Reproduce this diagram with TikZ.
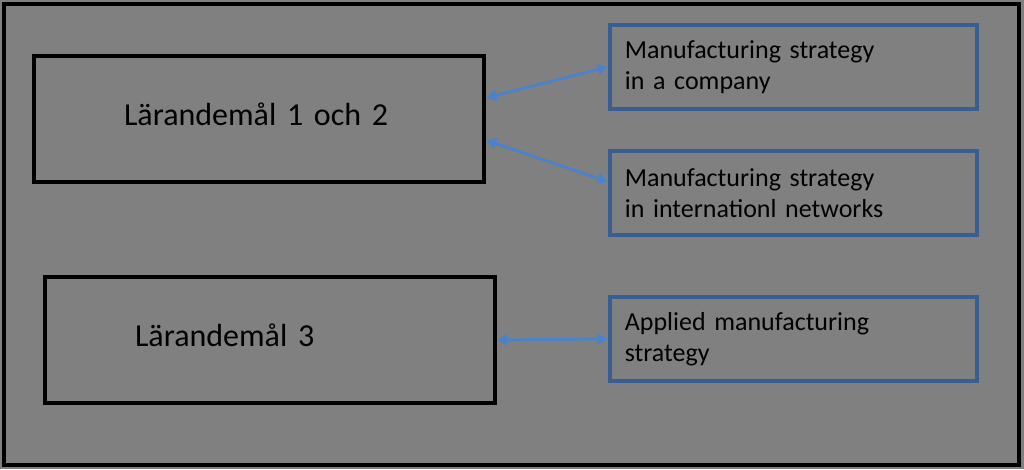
\documentclass[tikz,border=0pt]{standalone}
\usepackage{fontspec}
\setmainfont{Carlito}
\usetikzlibrary{arrows.meta}
\definecolor{bg}{RGB}{128,128,128}
\definecolor{boxblue}{RGB}{58,94,146}
\definecolor{arrowblue}{RGB}{78,130,200}
\tikzset{
  goalbox/.style={draw=black, line width=2.4pt, minimum width=337.5pt, minimum height=94.5pt,
    text width=202.5pt, inner xsep=67.5pt, align=left, text height=12pt, text depth=3pt,
    font=\fontsize{24}{28}\selectfont},
  topicbox/.style={draw=boxblue, line width=2.6pt, minimum width=275.25pt, minimum height=63pt,
    text width=253pt, inner xsep=11.1pt, align=left,
    font=\fontsize{19.5}{23}\selectfont},
  link/.style={draw=arrowblue, line width=2.2pt, {Latex[length=8pt,width=10pt]}-{Latex[length=8pt,width=10pt]}}
}
\begin{document}
\begin{tikzpicture}[x=0.75pt,y=-0.75pt]
\fill[bg] (0,0) rectangle (1024,469);
\useasboundingbox (0,0) rectangle (1024,469);
\draw[line width=3pt] (4,4) rectangle (1019,465);
\node[goalbox] (g1) at (259,119) {Lärandemål 1 och 2};
\node[goalbox] (g2) at (270,340) {Lärandemål 3};
\node[topicbox] (t1) at (793.5,67) {Manufacturing strategy\\in a company};
\node[topicbox] (t2) at (793.5,193) {Manufacturing strategy\\in internationl networks};
\node[topicbox] (t3) at (793.5,339) {Applied manufacturing\\strategy};
\draw[link] ([yshift=15.75pt]g1.east) -- (t1.west);
\draw[link] ([yshift=-15.75pt]g1.east) -- ([yshift=8.25pt]t2.west);
\draw[link] (g2.east) -- (t3.west);
\end{tikzpicture}
\end{document}
